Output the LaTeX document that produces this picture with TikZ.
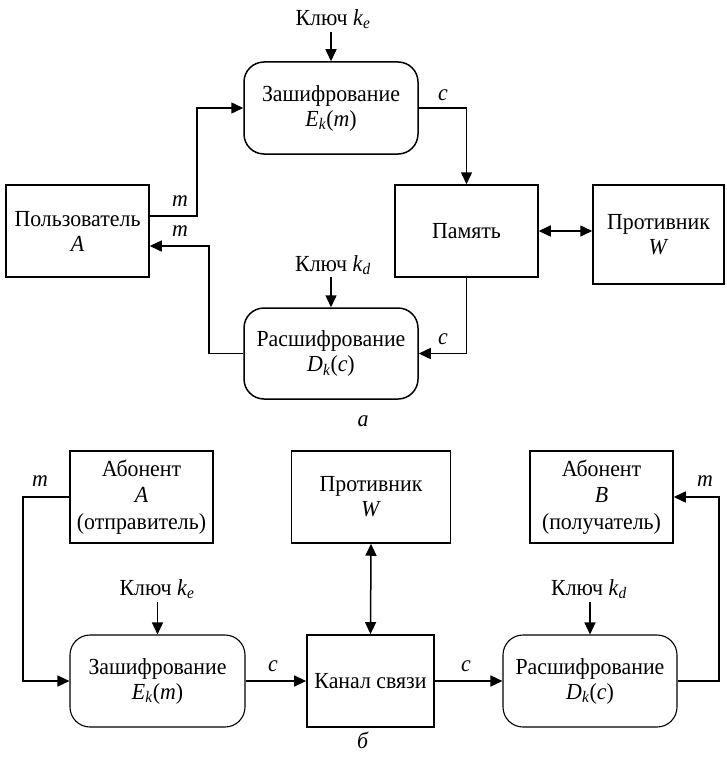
\documentclass[tikz,border=0pt]{standalone}
\usepackage{fontspec}
\setmainfont{Liberation Serif}[FakeStretch=0.95]
\usetikzlibrary{arrows.meta}
\newcommand{\sub}[2]{\textit{#1}\textsubscript{\textit{#2}}}
\begin{document}
\begin{tikzpicture}[x=1pt,y=-1pt,
  every node/.style={font=\fontsize{23}{25}\selectfont},
  block/.style={draw, line width=1.5pt, inner sep=0pt, align=center, minimum height=92pt},
  rblock/.style={block, rounded corners=20pt},
  thinr/.style={rblock, line width=1.1pt},
  tall/.style={font=\fontsize{23}{26.5}\selectfont},
  lbl/.style={inner sep=0pt},
  arr/.style={line width=1.5pt, -{Triangle[length=12pt,width=11pt]}},
  darr/.style={line width=1.5pt, {Triangle[length=12pt,width=11pt]}-{Triangle[length=12pt,width=11pt]}}]
\useasboundingbox (0,0) rectangle (727,760);

% ---------- a: storage ----------
\node[block, minimum width=143pt] (usr) at (77.5,231) {Пользователь\\\textit{A}};
\node[rblock, minimum width=174pt] (enc1) at (331,108) {Зашифрование\\\sub{E}{k}(\textit{m})};
\node[block, minimum width=143pt] (mem) at (466.5,231) {Память};
\node[block, minimum width=131pt, minimum height=99pt] (adv1) at (658.5,234.5) {Противник\\\textit{W}};
\node[rblock, minimum width=174pt, minimum height=91pt] (dec1) at (331,353.5) {Расшифрование\\\sub{D}{k}(\textit{c})};

\node[lbl] (ke1) at (333,19) {Ключ \sub{k}{e}};
\node[lbl] (kd1) at (333,265) {Ключ \sub{k}{d}};
\coordinate (ke1s) at (333,32);
\coordinate (kd1s) at (333,277);
\draw[arr] (enc1.north |- ke1s) -- (enc1.north);
\draw[arr] (dec1.north |- kd1s) -- (dec1.north);

\coordinate (u1) at (197,216);
\coordinate (u2) at (209,246);
\draw[arr] (usr.east |- u1) -- (u1) |- (enc1.west);
\draw[arr] (dec1.west) -| (u2) -- (usr.east |- u2);
\draw[arr] (enc1.east) -| (mem.north);
\draw[arr] (mem.south) |- (dec1.east);
\draw[darr] (mem.east) -- (mem.east -| adv1.west);

\node[lbl] (m1) at (180,201) {\textit{m}};
\node[lbl] (m2) at (180,231) {\textit{m}};
\node[lbl] (c1) at (443,95) {\textit{c}};
\node[lbl] (c2) at (443,339) {\textit{c}};
\node[lbl] (capa) at (363,421) {\textit{а}};

% ---------- б: channel ----------
\node[block, tall, minimum width=143pt] (abA) at (141.5,497) {Абонент\\\textit{A}\\(отправитель)};
\node[block, minimum width=159pt] (adv2) at (371,497) {Противник\\\textit{W}};
\node[block, tall, minimum width=143pt] (abB) at (601.5,497) {Абонент\\\textit{B}\\(получатель)};
\node[thinr, minimum width=175pt] (enc2) at (157.5,681) {Зашифрование\\\sub{E}{k}(\textit{m})};
\node[block, line width=1.8pt, minimum width=127pt] (chan) at (370.5,681) {Канал связи};
\node[thinr, minimum width=174pt] (dec2) at (590,681) {Расшифрование\\\sub{D}{k}(\textit{c})};

\node[lbl] (ke2) at (157,589) {Ключ \sub{k}{e}};
\node[lbl] (kd2) at (589,589) {Ключ \sub{k}{d}};
\coordinate (ke2s) at (157,602);
\coordinate (kd2s) at (589,602);
\draw[arr] (enc2.north |- ke2s) -- (enc2.north);
\draw[arr] (dec2.north |- kd2s) -- (dec2.north);

\coordinate (v1) at (23,681);
\coordinate (v2) at (719,497);
\draw[arr] (abA.west) -| (v1) -- (enc2.west);
\draw[arr] (dec2.east) -| (v2) -- (abB.east);
\draw[arr] (enc2.east) -- (chan.west);
\draw[arr] (chan.east) -- (dec2.west);
\draw[darr] (adv2.south) -- (chan.north);

\node[lbl] (m3) at (40,481) {\textit{m}};
\node[lbl] (m4) at (705,481) {\textit{m}};
\node[lbl] (c3) at (273,666) {\textit{c}};
\node[lbl] (c4) at (466,666) {\textit{c}};
\node[lbl] (capb) at (363,740) {\textit{б}};
\end{tikzpicture}
\end{document}
